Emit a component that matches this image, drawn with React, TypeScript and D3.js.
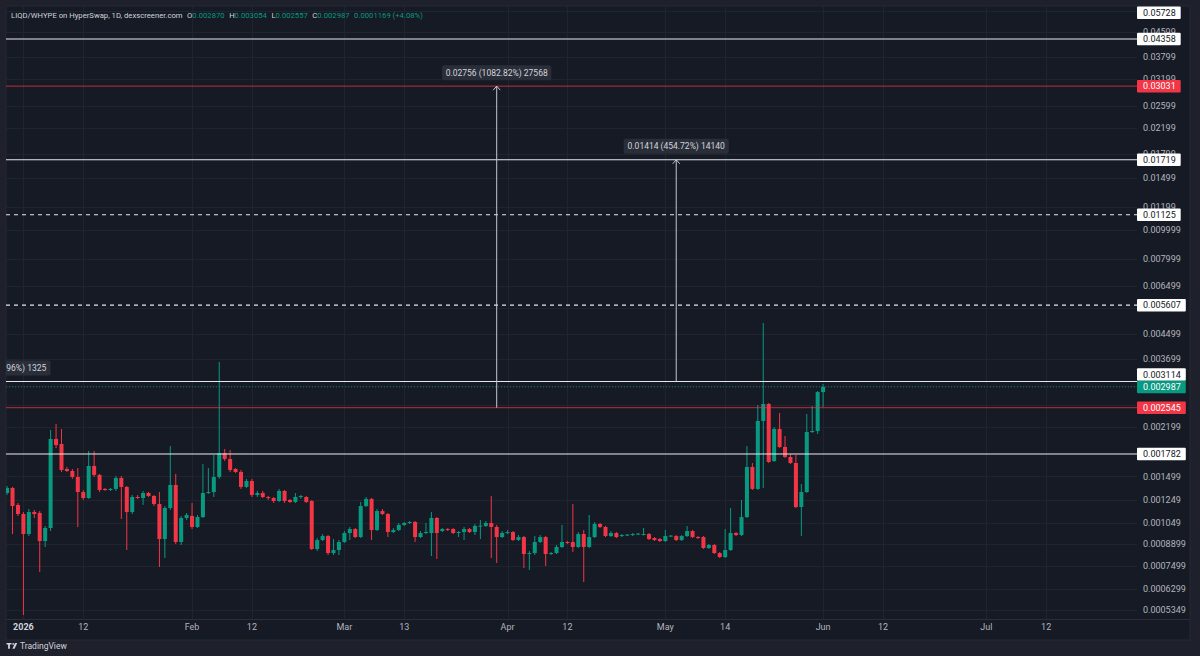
import React from 'react';
import * as d3 from 'd3';

const WIDTH = 1200;
const HEIGHT = 656;

// LIQD/WHYPE daily bars: [open, high, low, close]
const candles: [number, number, number, number][] = [
  [0.001319, 0.001392, 0.001299, 0.001371],
  [0.001371, 0.001382, 0.0009615, 0.001193],
  [0.001203, 0.001221, 0.001105, 0.001122],
  [0.001122, 0.001139, 0.0005152, 0.0009615],
  [0.0009615, 0.001166, 0.0009468, 0.001139],
  [0.001139, 0.001157, 0.001088, 0.001122],
  [0.001131, 0.001148, 0.0007176, 0.0009111],
  [0.0009111, 0.001023, 0.00087, 0.001007],
  [0.001007, 0.002143, 0.000984, 0.002],
  [0.002, 0.002245, 0.001865, 0.001909],
  [0.001924, 0.00216, 0.001551, 0.001575],
  [0.001587, 0.001612, 0.001551, 0.001563],
  [0.001563, 0.001587, 0.00147, 0.001492],
  [0.001492, 0.001599, 0.001015, 0.001329],
  [0.001329, 0.00135, 0.00125, 0.001269],
  [0.001269, 0.001823, 0.00126, 0.001624],
  [0.001624, 0.001823, 0.001492, 0.001516],
  [0.001516, 0.001527, 0.001329, 0.00135],
  [0.001361, 0.001371, 0.00134, 0.00135],
  [0.00135, 0.001371, 0.00134, 0.001361],
  [0.001361, 0.001504, 0.00134, 0.001481],
  [0.001481, 0.001504, 0.00108, 0.001382],
  [0.001382, 0.001392, 0.00085, 0.001139],
  [0.001139, 0.001299, 0.001122, 0.001279],
  [0.001279, 0.001299, 0.00126, 0.001269],
  [0.001269, 0.00134, 0.001203, 0.001319],
  [0.001319, 0.001329, 0.001279, 0.001289],
  [0.001289, 0.001299, 0.001193, 0.001212],
  [0.001212, 0.001329, 0.0007458, 0.0009252],
  [0.0009252, 0.001193, 0.0007992, 0.001175],
  [0.001175, 0.001894, 0.001157, 0.001403],
  [0.001403, 0.001527, 0.0008904, 0.0009041],
  [0.0009041, 0.001105, 0.0008835, 0.001088],
  [0.001088, 0.001131, 0.001071, 0.001113],
  [0.001105, 0.001221, 0.0009993, 0.001015],
  [0.001015, 0.001113, 0.001007, 0.001096],
  [0.001096, 0.001649, 0.001088, 0.001319],
  [0.001319, 0.001599, 0.001309, 0.001329],
  [0.001329, 0.001768, 0.001279, 0.001492],
  [0.001492, 0.003619, 0.00147, 0.001795],
  [0.001795, 0.001851, 0.001688, 0.001714],
  [0.001714, 0.001837, 0.001551, 0.001575],
  [0.001587, 0.001599, 0.001539, 0.001551],
  [0.001551, 0.001575, 0.001361, 0.001382],
  [0.001382, 0.00147, 0.001371, 0.001447],
  [0.001447, 0.00147, 0.001279, 0.001299],
  [0.001299, 0.00134, 0.001279, 0.001319],
  [0.001319, 0.00134, 0.001269, 0.001279],
  [0.001279, 0.001289, 0.00125, 0.001269],
  [0.001269, 0.001279, 0.001221, 0.00124],
  [0.00124, 0.001361, 0.001231, 0.00134],
  [0.00134, 0.00135, 0.001221, 0.00124],
  [0.00125, 0.00126, 0.001221, 0.001231],
  [0.001231, 0.001319, 0.001221, 0.001279],
  [0.001279, 0.001299, 0.00126, 0.001289],
  [0.001279, 0.001289, 0.001221, 0.001231],
  [0.00124, 0.00125, 0.00085, 0.0008567],
  [0.0008567, 0.0009323, 0.0008435, 0.0009182],
  [0.0009182, 0.0009615, 0.0009111, 0.0009468],
  [0.0009468, 0.0009541, 0.0008179, 0.0008306],
  [0.0008306, 0.0009252, 0.0008179, 0.00085],
  [0.00085, 0.0009182, 0.0008179, 0.0009041],
  [0.0009041, 0.000984, 0.0008972, 0.000969],
  [0.000969, 0.001015, 0.0009182, 0.0009993],
  [0.0009993, 0.001007, 0.0009323, 0.0009395],
  [0.0009395, 0.001231, 0.0009323, 0.001193],
  [0.001193, 0.001279, 0.001184, 0.00126],
  [0.00126, 0.001269, 0.0009182, 0.0009916],
  [0.0009916, 0.001166, 0.000984, 0.001148],
  [0.001148, 0.001166, 0.001113, 0.001122],
  [0.001122, 0.001131, 0.0009395, 0.0009764],
  [0.0009764, 0.001007, 0.000969, 0.0009916],
  [0.0009916, 0.001047, 0.000984, 0.001031],
  [0.001031, 0.001055, 0.001023, 0.001047],
  [0.001047, 0.001063, 0.001039, 0.001055],
  [0.001055, 0.001063, 0.0009041, 0.0009395],
  [0.0009395, 0.000984, 0.0009323, 0.000969],
  [0.000969, 0.001047, 0.0009615, 0.0009764],
  [0.000969, 0.001139, 0.0008116, 0.001088],
  [0.001088, 0.001096, 0.0007931, 0.000969],
  [0.000984, 0.001007, 0.0009764, 0.0009993],
  [0.0009993, 0.001007, 0.000984, 0.0009916],
  [0.0009993, 0.001007, 0.0009615, 0.000969],
  [0.000969, 0.000984, 0.0009395, 0.0009764],
  [0.0009764, 0.001015, 0.0009182, 0.0009993],
  [0.0009993, 0.001007, 0.000969, 0.0009764],
  [0.0009764, 0.001039, 0.0009541, 0.001023],
  [0.001023, 0.001071, 0.0009252, 0.001026],
  [0.001023, 0.001063, 0.001015, 0.001047],
  [0.001047, 0.001289, 0.0007992, 0.001015],
  [0.001015, 0.001031, 0.0007691, 0.0009395],
  [0.0009395, 0.000984, 0.0009323, 0.000969],
  [0.000969, 0.0009916, 0.0009615, 0.0009764],
  [0.0009764, 0.000984, 0.0009111, 0.0009182],
  [0.0009182, 0.0009541, 0.0009111, 0.0009395],
  [0.0009395, 0.0009468, 0.0007401, 0.0008242],
  [0.0008242, 0.0008435, 0.0007287, 0.0008306],
  [0.0008306, 0.0009468, 0.0008179, 0.0009041],
  [0.0009041, 0.0009541, 0.0008972, 0.0009395],
  [0.0009395, 0.0009468, 0.0007516, 0.0008242],
  [0.0008242, 0.000837, 0.0008179, 0.0008306],
  [0.0008306, 0.0008835, 0.0008242, 0.00087],
  [0.00087, 0.001031, 0.0008633, 0.0009041],
  [0.0009041, 0.0009111, 0.0008904, 0.0008972],
  [0.0009041, 0.001212, 0.000837, 0.00087],
  [0.00087, 0.0009764, 0.0008633, 0.0009615],
  [0.0009615, 0.0009916, 0.0006644, 0.00087],
  [0.00087, 0.001113, 0.0008633, 0.0009395],
  [0.0009395, 0.001055, 0.0009323, 0.001039],
  [0.001039, 0.001047, 0.001007, 0.001015],
  [0.001015, 0.001023, 0.0009395, 0.0009468],
  [0.0009468, 0.000984, 0.0009395, 0.000969],
  [0.000969, 0.0009764, 0.0009323, 0.0009395],
  [0.0009468, 0.0009615, 0.0009395, 0.0009541],
  [0.0009541, 0.0009615, 0.0009468, 0.000957],
  [0.0009541, 0.000969, 0.0009468, 0.0009615],
  [0.0009615, 0.000969, 0.0009541, 0.000965],
  [0.0009541, 0.001007, 0.000951, 0.0009615],
  [0.0009615, 0.000969, 0.0009182, 0.0009252],
  [0.0009323, 0.0009395, 0.0009111, 0.0009182],
  [0.0009252, 0.0009323, 0.0009041, 0.0009111],
  [0.0009111, 0.0009916, 0.0009041, 0.0009468],
  [0.0009468, 0.0009541, 0.0009395, 0.00095],
  [0.0009468, 0.0009541, 0.0009111, 0.0009182],
  [0.0009182, 0.0009541, 0.0009111, 0.0009468],
  [0.0009468, 0.001023, 0.0009395, 0.000984],
  [0.000984, 0.0009916, 0.0009323, 0.0009395],
  [0.0009395, 0.0009468, 0.0009252, 0.0009323],
  [0.0009395, 0.0009468, 0.0008567, 0.0008633],
  [0.0008633, 0.0008904, 0.0008567, 0.0008835],
  [0.0008835, 0.0008904, 0.0008242, 0.0008306],
  [0.0008306, 0.000837, 0.0007992, 0.0008054],
  [0.0008054, 0.0009993, 0.0007992, 0.00085],
  [0.00085, 0.001175, 0.0008435, 0.000969],
  [0.000969, 0.0009764, 0.0009468, 0.0009541],
  [0.0009541, 0.00125, 0.0009468, 0.001096],
  [0.001096, 0.001894, 0.001088, 0.001612],
  [0.001612, 0.001662, 0.00135, 0.001361],
  [0.001361, 0.002599, 0.00135, 0.002297],
  [0.002297, 0.004887, 0.001371, 0.002619],
  [0.002619, 0.002639, 0.001662, 0.001675],
  [0.001688, 0.002193, 0.001675, 0.00216],
  [0.00216, 0.002444, 0.001865, 0.00188],
  [0.00188, 0.002046, 0.001727, 0.001741],
  [0.001741, 0.001781, 0.001649, 0.001662],
  [0.001662, 0.001768, 0.001175, 0.001184],
  [0.001184, 0.001414, 0.0009468, 0.001329],
  [0.001329, 0.002425, 0.001319, 0.00211],
  [0.00211, 0.002579, 0.002094, 0.002127],
  [0.002127, 0.002894, 0.002078, 0.00287],
  [0.00287, 0.003054, 0.002557, 0.002987],
];

// first bar, and days the pair had no bar (TradingView just skips them)
const firstBar = '2025-12-29';
const missingDays = ['2026-03-07', '2026-04-25', '2026-05-05', '2026-05-09'];

const priceTicks = [
  0.05399, 0.04599, 0.03799, 0.03199, 0.02599, 0.02199, 0.01799, 0.01499, 0.01199,
  0.009999, 0.007999, 0.006499, 0.005499, 0.004499, 0.003699, 0.002999, 0.002599,
  0.002199, 0.001799, 0.001499, 0.001249, 0.001049, 0.0008899, 0.0007499, 0.0006299,
  0.0005349,
];

const timeTicks = [
  { date: '2026-01-01', label: '2026', year: true },
  { date: '2026-01-12', label: '12' },
  { date: '2026-02-01', label: 'Feb' },
  { date: '2026-02-12', label: '12' },
  { date: '2026-03-01', label: 'Mar' },
  { date: '2026-03-13', label: '13' },
  { date: '2026-04-01', label: 'Apr' },
  { date: '2026-04-12', label: '12' },
  { date: '2026-05-01', label: 'May' },
  { date: '2026-05-14', label: '14' },
  { date: '2026-06-01', label: 'Jun' },
  { date: '2026-06-12', label: '12' },
  { date: '2026-07-01', label: 'Jul' },
  { date: '2026-07-12', label: '12' },
];

// horizontal levels drawn on the chart
const whiteLevels = [0.05728, 0.04358, 0.01719, 0.003114, 0.001782];
const dashedLevels = [0.01125, 0.005607];
const redLevels = [0.03031, 0.002545];
const lastPrice = 0.002987;

// price range measurements: bar index, from, to, label
const measures = [
  { bar: -1.3, from: 0.001782, to: 0.003114, label: '0.001325 (74.96%) 1325' },
  { bar: 90, from: 0.002545, to: 0.03031, label: '0.02756 (1082.82%) 27568' },
  { bar: 123, from: 0.003114, to: 0.01719, label: '0.01414 (454.72%) 14140' },
];

const title = 'LIQD/WHYPE on HyperSwap, 1D, dexscreener.com';
const ohlcKeys = ['O', 'H', 'L', 'C'];
const ohlcValues = ['0.002870', '0.003054', '0.002557', '0.002987'];
const change = '0.0001169 (+4.08%)';

const GREEN = '#089981';
const RED = '#f23645';
const BG = '#161a25';
const FRAME = '#1e212b';
const GRID = '#20242f';
const TEXT = '#b2b5be';
const FONT = 'Roboto, "Noto Sans", sans-serif';

const pane = { left: 6, top: 6, right: 1137, bottom: 619 };
const panel = { left: 6, top: 6, right: 1190, bottom: 640 };

const dayMs = 86400000;

const App: React.FC = () => {
  // bar dates (skipping the missing days)
  const skip = new Set(missingDays);
  const barDates: string[] = [];
  let t = new Date(firstBar + 'T00:00:00Z').getTime();
  while (barDates.length < candles.length) {
    const iso = new Date(t).toISOString().slice(0, 10);
    if (!skip.has(iso)) barDates.push(iso);
    t += dayMs;
  }
  const lastIdx = barDates.length - 1;
  const lastT = new Date(barDates[lastIdx] + 'T00:00:00Z').getTime();
  const barIndex = (iso: string) => {
    const i = barDates.indexOf(iso);
    if (i >= 0) return i;
    return lastIdx + Math.round((new Date(iso + 'T00:00:00Z').getTime() - lastT) / dayMs);
  };

  const x = d3.scaleLinear().domain([-0.2, 207.7]).range([pane.left, pane.right]);
  const y = d3.scaleLog().domain([0.0004958, 0.05886]).range([620, 0]);
  const barW = (x(1) - x(0)) * 0.74;

  // price tags on the right axis
  const tagH = 12.5;
  const curY = y(lastPrice);
  type Tag = { y: number; text: string; bg: string; fg: string };
  const tags: Tag[] = [
    ...whiteLevels.map((p) => ({ y: y(p), text: p.toPrecision(4), bg: '#ffffff', fg: '#131722' })),
    ...dashedLevels.map((p) => ({ y: y(p), text: p.toPrecision(4), bg: '#ffffff', fg: '#131722' })),
    ...redLevels.map((p) => ({ y: y(p), text: p.toPrecision(4), bg: RED, fg: '#ffffff' })),
  ].map((tg) => {
    let ty = Math.max(pane.top + tagH / 2 + 0.5, Math.min(pane.bottom - tagH / 2, tg.y));
    if (Math.abs(ty - curY) < tagH) ty = ty < curY ? curY - tagH : curY + tagH;
    return { ...tg, y: ty };
  });
  tags.push({ y: curY, text: lastPrice.toFixed(6), bg: GREEN, fg: '#ffffff' });

  // tick labels sitting fully under a tag are not shown
  const visibleTicks = priceTicks.filter((p) => tags.every((tg) => Math.abs(tg.y - y(p)) > 4.5));

  const tagW = (s: string) => 8 + s.length * 5.1;
  const measW = (s: string) => 12 + s.length * 4.05;

  return (
    <svg
      width={WIDTH}
      height={HEIGHT}
      style={{ position: 'fixed', left: 0, top: 0, display: 'block' }}
      fontFamily={FONT}
    >
      <defs>
        <clipPath id="pane">
          <rect x={pane.left} y={pane.top} width={pane.right - pane.left} height={pane.bottom - pane.top} />
        </clipPath>
      </defs>
      <rect width={WIDTH} height={HEIGHT} fill={FRAME} />
      <rect
        x={panel.left}
        y={panel.top}
        width={panel.right - panel.left}
        height={panel.bottom - panel.top}
        fill={BG}
        stroke="#2a2e39"
        strokeWidth={0.8}
      />

      {/* grid */}
      <g clipPath="url(#pane)" stroke={GRID} strokeWidth={1}>
        {priceTicks.map((p) => (
          <line key={p} x1={pane.left} x2={pane.right} y1={Math.round(y(p)) + 0.5} y2={Math.round(y(p)) + 0.5} />
        ))}
        {timeTicks.map((tk) => {
          const xx = Math.round(x(barIndex(tk.date))) + 0.5;
          return <line key={tk.date} x1={xx} x2={xx} y1={pane.top} y2={pane.bottom} />;
        })}
      </g>
      <line x1={panel.left} x2={panel.right} y1={pane.bottom + 0.5} y2={pane.bottom + 0.5} stroke="#2a2e39" />

      {/* candles */}
      <g clipPath="url(#pane)">
        {candles.map(([o, h, l, c], i) => {
          const cx = x(i);
          const col = c >= o ? GREEN : RED;
          const top = y(Math.max(o, c));
          const bot = y(Math.min(o, c));
          return (
            <g key={i}>
              <line x1={cx} x2={cx} y1={y(h)} y2={y(l)} stroke={col} strokeWidth={1} />
              <rect x={cx - barW / 2} y={top} width={barW} height={Math.max(1, bot - top)} fill={col} />
            </g>
          );
        })}
      </g>

      {/* levels */}
      <g clipPath="url(#pane)">
        {whiteLevels.map((p) => (
          <line key={p} x1={pane.left} x2={pane.right} y1={y(p)} y2={y(p)} stroke="#e6e8ee" strokeWidth={1.1} />
        ))}
        {dashedLevels.map((p) => (
          <line
            key={p}
            x1={pane.left}
            x2={pane.right}
            y1={y(p)}
            y2={y(p)}
            stroke="#e6e8ee"
            strokeWidth={1.1}
            strokeDasharray="4 4"
          />
        ))}
        {redLevels.map((p) => (
          <line key={p} x1={pane.left} x2={pane.right} y1={y(p)} y2={y(p)} stroke={RED} strokeOpacity={0.75} strokeWidth={1} />
        ))}
        <line
          x1={pane.left}
          x2={pane.right}
          y1={curY}
          y2={curY}
          stroke={GREEN}
          strokeWidth={1}
          strokeDasharray="1 2"
          strokeOpacity={0.7}
        />
      </g>

      {/* measurements */}
      <g clipPath="url(#pane)" fontSize={8.5}>
        {measures.map((m) => {
          const mx = x(m.bar);
          const yTip = y(m.to);
          const w = measW(m.label);
          return (
            <g key={m.label}>
              <line x1={mx} x2={mx} y1={y(m.from)} y2={yTip} stroke="#c3c7cf" strokeWidth={1} />
              <path
                d={`M${mx - 3.5},${yTip + 4}L${mx},${yTip}L${mx + 3.5},${yTip + 4}`}
                fill="none"
                stroke="#c3c7cf"
                strokeWidth={1}
              />
              <rect x={mx - w / 2} y={yTip - 21} width={w} height={15} rx={2} fill="#2a2e39" />
              <text x={mx} y={yTip - 10.5} textAnchor="middle" fill="#d1d4dc">
                {m.label}
              </text>
            </g>
          );
        })}
      </g>

      {/* price axis */}
      <g fontSize={9} fill={TEXT}>
        {visibleTicks.map((p) => (
          <text key={p} x={1143} y={y(p) + 3.2}>
            {p.toPrecision(4)}
          </text>
        ))}
      </g>
      <g fontSize={9}>
        {tags.map((tg) => (
          <g key={tg.text}>
            <rect x={pane.right} y={tg.y - tagH / 2} width={tagW(tg.text)} height={tagH} fill={tg.bg} rx={1} />
            <text x={1143} y={tg.y + 3.2} fill={tg.fg}>
              {tg.text}
            </text>
          </g>
        ))}
      </g>

      {/* time axis */}
      <g fontSize={9} fill={TEXT} textAnchor="middle">
        {timeTicks.map((tk) => (
          <text
            key={tk.date}
            x={x(barIndex(tk.date))}
            y={630}
            fontWeight={tk.year ? 700 : 400}
            fill={tk.year ? '#d1d4dc' : TEXT}
          >
            {tk.label}
          </text>
        ))}
      </g>

      {/* header */}
      <text x={11} y={18} fontSize={7.7} fill="#d1d4dc">
        <tspan>{title}</tspan>
        {ohlcKeys.map((k, i) => (
          <React.Fragment key={k}>
            <tspan dx={4.5}>{k}</tspan>
            <tspan fill={GREEN}>{ohlcValues[i]}</tspan>
          </React.Fragment>
        ))}
        <tspan dx={4.5} fill={GREEN}>
          {change}
        </tspan>
      </text>

      {/* footer logo */}
      <g fill="#d1d4dc">
        <path d="M6.5,643h5v1.6h-1.6v4.2h-1.8v-4.2h-1.6z" />
        <circle cx={13.2} cy={643.9} r={0.9} />
        <path d="M15,643h2.2l-2.6,5.8h-2.2z" />
        <text x={20} y={649} fontSize={8.5}>
          TradingView
        </text>
      </g>
    </svg>
  );
};

export default App;
